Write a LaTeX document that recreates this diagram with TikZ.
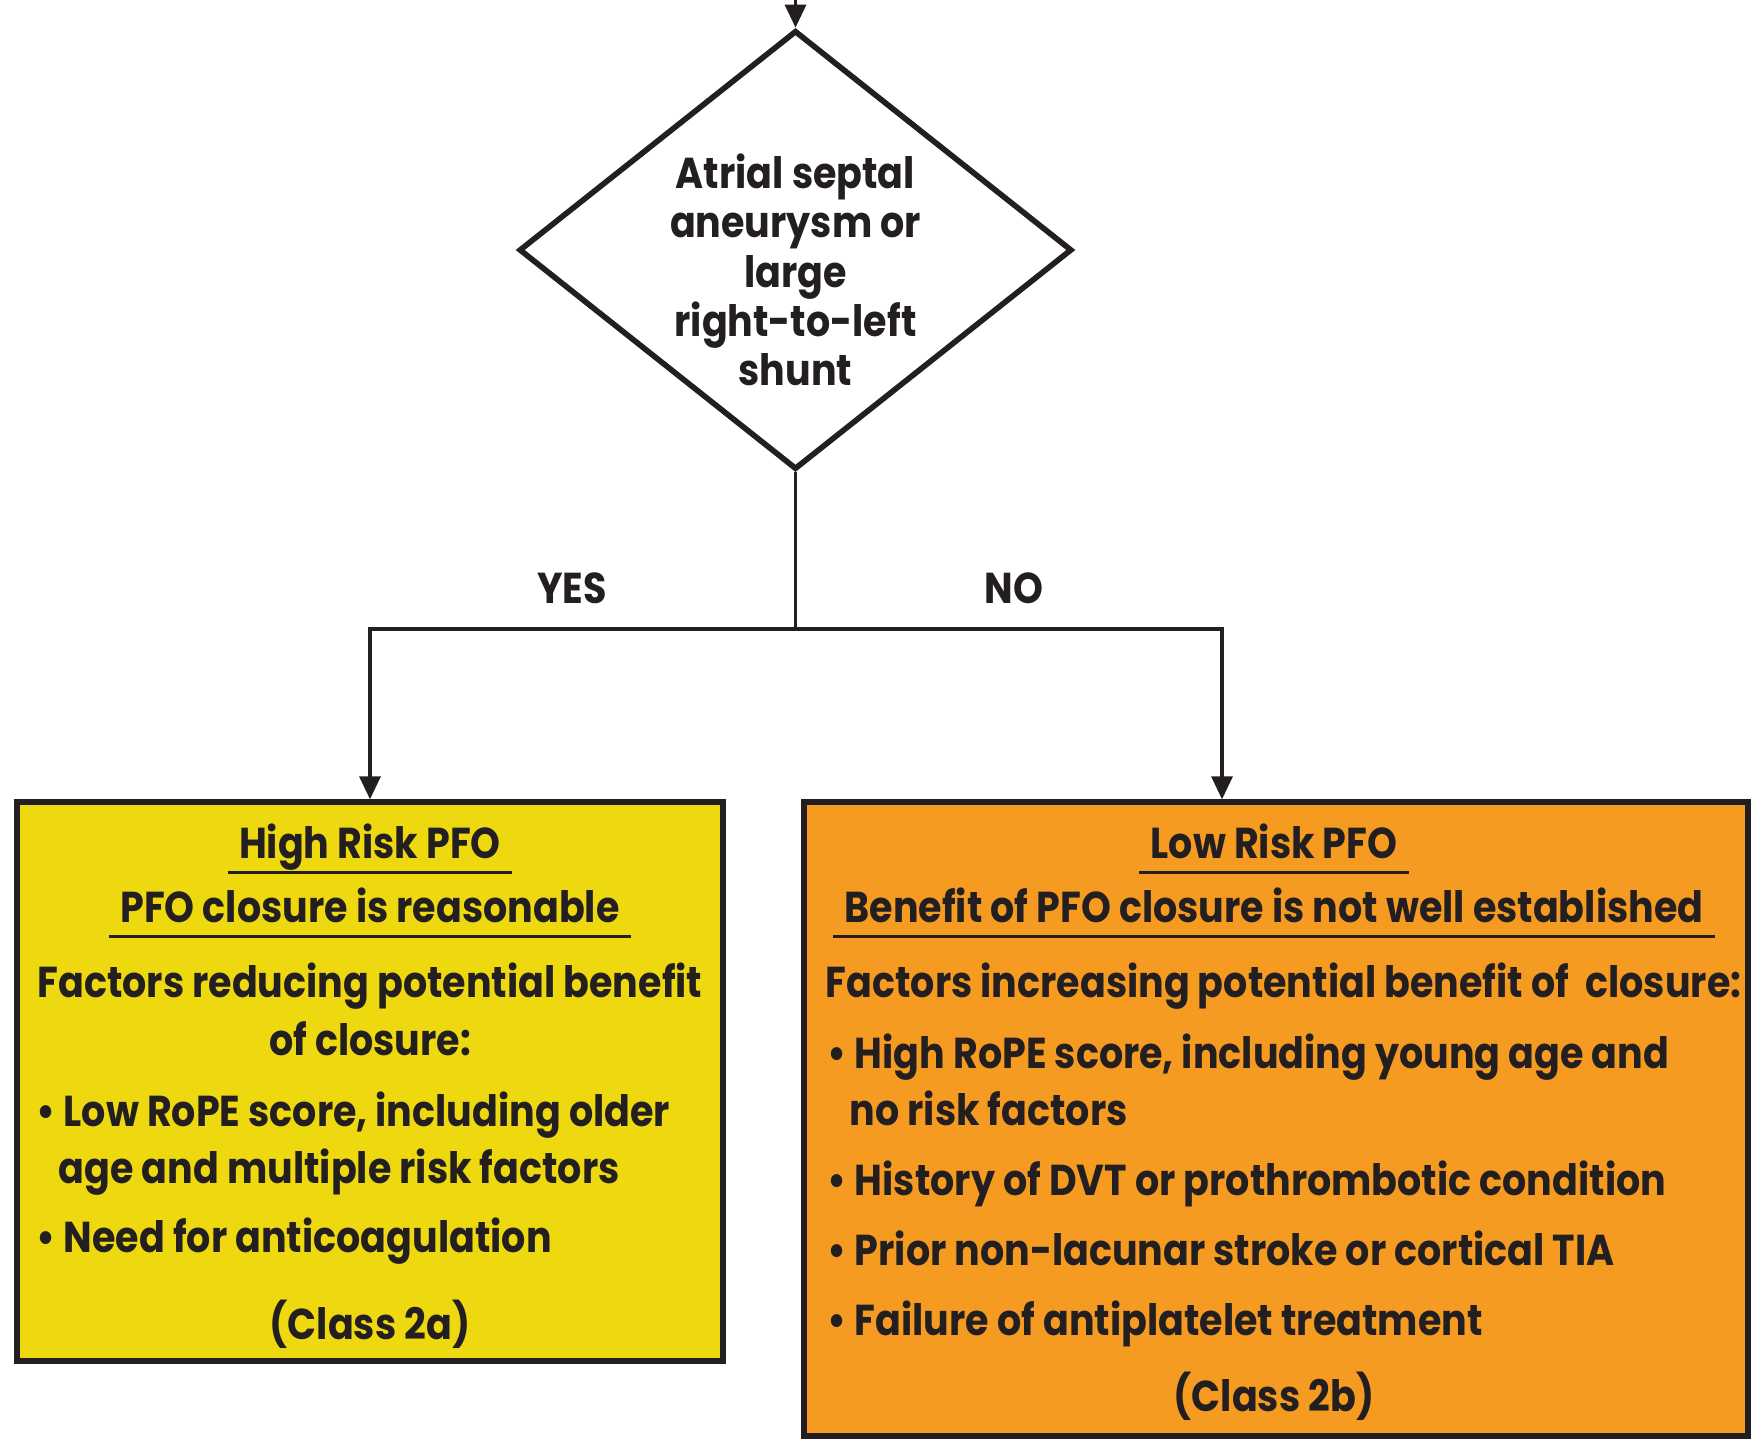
\documentclass[tikz,border=0pt]{standalone}
\usepackage{fontspec}
\setmainfont{Poppins}[FakeStretch=0.88]
\usetikzlibrary{shapes.geometric,arrows.meta}
\definecolor{inkdark}{RGB}{35,31,32}
\definecolor{highyellow}{RGB}{238,216,16}
\definecolor{loworange}{RGB}{246,155,34}
\tikzset{
    every node/.style={font=\fontsize{12.3}{14}\selectfont\bfseries,text=inkdark},
    decision/.style={draw=inkdark,line width=1.6pt,diamond,minimum width=5.53cm,minimum height=4.39cm,inner sep=0pt},
    riskbox/.style={draw=inkdark,line width=1.5pt,rectangle,inner sep=0pt},
    heading/.style={anchor=mid,inner xsep=3pt},
    bul/.style={anchor=mid west,inner xsep=0pt},
    flow/.style={draw=inkdark,line width=0.9pt,-{Triangle[length=2.3mm,width=2.1mm]}},
    link/.style={draw=inkdark,line width=0.9pt},
}
\newcommand{\underhead}[1] {
    \draw[inkdark,line width=1pt]
        ([yshift=-4pt]#1.base west) -- ([yshift=-4pt]#1.base east);
}
\newcommand{\factor}[4] {
    \node[bul] (#1) at (#2,#3) {\textbullet\ #4};
}

\begin{document}
\begin{tikzpicture}
    \useasboundingbox (0,0) rectangle (17.52,14.40);
    \node[decision] (asa) at (7.955,11.90) {};
    \node[align=center] (asatext) at (7.955,11.70)
        {Atrial septal\\aneurysm or\\large\\right-to-left\\shunt};
    \node[riskbox,fill=highyellow,minimum width=7.06cm,minimum height=5.59cm]
        (hrisk) at (3.70,3.585) {};
    \node[riskbox,fill=loworange,minimum width=9.44cm,minimum height=6.34cm]
        (lrisk) at (12.76,3.21) {};

    \coordinate (entry) at (7.955,14.40);
    \coordinate (split) at (7.955,8.11);
    \coordinate (yesturn) at (3.70,8.11);
    \coordinate (noturn) at (12.22,8.11);
    \draw[flow] (entry) -- (asa.north);
    \draw[link] (asa.south) -- (split);
    \draw[flow] (split) -- (yesturn) -- (hrisk.north);
    \draw[flow] (split) -- (noturn) -- (noturn |- lrisk.north);
    \node (yes) at (5.72,8.52) {YES};
    \node (no) at (10.14,8.52) {NO};

    \node[heading] (hrtitle) at (3.70,5.91) {High Risk PFO};
    \node[heading] (hrclaim) at (3.70,5.27) {PFO closure is reasonable};
    \underhead{hrtitle}
    \underhead{hrclaim}
    \node[anchor=mid] (hrfacts) at (3.70,4.52) {Factors reducing potential benefit};
    \node[anchor=mid] (hrfactsend) at (3.70,3.94) {of closure:};
    \factor{hrlow}{0.36}{3.23}{Low RoPE score, including older}
    \node[bul] (hrlowend) at (0.58,2.66) {age and multiple risk factors};
    \factor{hranti}{0.36}{1.97}{Need for anticoagulation}
    \node[anchor=mid] (hrclass) at (3.70,1.10) {(Class 2a)};

    \node[heading] (lrtitle) at (12.74,5.91) {Low Risk PFO};
    \node[heading] (lrclaim) at (12.74,5.27) {Benefit of PFO closure is not well established};
    \underhead{lrtitle}
    \underhead{lrclaim}
    \node[bul] (lrfacts) at (8.25,4.52) {Factors increasing potential benefit of\hspace{0.38em}closure:};
    \factor{lrhigh}{8.27}{3.81}{High RoPE score, including young age and}
    \node[bul] (lrhighend) at (8.49,3.24) {no risk factors};
    \factor{lrdvt}{8.27}{2.54}{History of DVT or prothrombotic condition}
    \factor{lrtia}{8.27}{1.84}{Prior non-lacunar stroke or cortical TIA}
    \factor{lrfail}{8.27}{1.14}{Failure of antiplatelet treatment}
    \node[anchor=mid] (lrclass) at (12.74,0.38) {(Class 2b)};
\end{tikzpicture}
\end{document}
